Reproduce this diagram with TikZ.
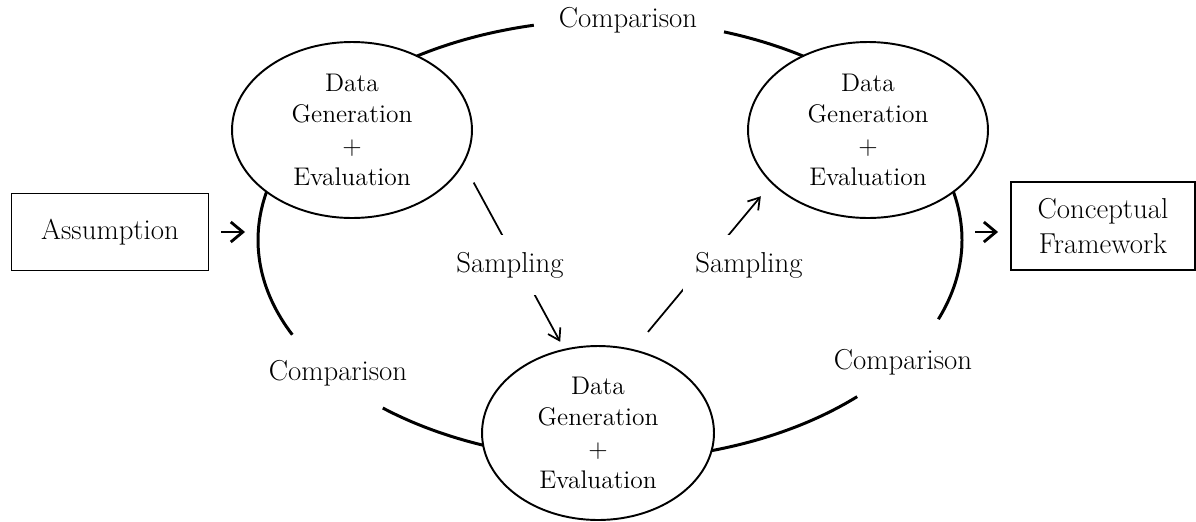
\documentclass[tikz,border=0pt]{standalone}
\usetikzlibrary{shapes.geometric,arrows.meta}
\newcommand{\labsize}{\fontsize{16.4}{20}\selectfont}
\newcommand{\dgsize}{\fontsize{14.5}{17.9}\selectfont}
\begin{document}
\begin{tikzpicture}[x=0.02cm,y=-0.02cm,
  ring/.style={line width=1.7pt},
  dgen/.style={ellipse,draw,line width=1.1pt,fill=white,align=center,inner sep=0pt,
    minimum width=4.8cm,minimum height=3.52cm,font=\dgsize},
  endbox/.style={draw,line width=1.1pt,align=center,font=\labsize},
  lab/.style={font=\labsize,inner sep=0pt},
  samplab/.style={font=\labsize,fill=white,inner xsep=0.24cm,inner ysep=0.34cm},
  samp/.style={line width=1pt,-{Straight Barb[length=0.22cm,width=0.28cm]}},
  mainarrow/.style={line width=1.6pt,-{Straight Barb[length=0.24cm,width=0.4cm]}}]
\useasboundingbox (0,0) rectangle (1196,521);
% the comparison ring
\foreach \a/\b in {102.5/140, 40/71.1, 160/205.5, 229.8/260, 280/314.6, 338.9/380}
  \draw[ring] plot[domain=\a:\b,samples=40] ({610+352*cos(\x)},{240-220*sin(\x)});
\node[dgen] (dgA) at (352,130) {Data\\Generation\\+\\Evaluation};
\node[dgen] (dgC) at (868,130) {Data\\Generation\\+\\Evaluation};
\node[dgen,minimum width=4.64cm,minimum height=3.48cm] (dgB) at (598,433) {Data\\Generation\\+\\Evaluation};
\node[endbox,minimum width=3.94cm,minimum height=1.54cm] (assume) at (110,232) {Assumption};
\node[endbox,minimum width=3.68cm,minimum height=1.76cm] (concept) at (1103,226) {Conceptual\\Framework};
\coordinate (ringW) at (258,232);
\coordinate (ringE) at (963,232);
\draw[mainarrow,shorten <=0.24cm,shorten >=0.26cm] (assume) -- (ringW);
\draw[mainarrow,shorten <=0.24cm,shorten >=0.24cm] (ringE) -- (ringE -| concept.west);
\draw[samp,shorten <=0.42cm,shorten >=0.16cm] (dgA.-17) -- (dgB.112);
\draw[samp,shorten <=0.45cm,shorten >=0.33cm] (dgB.67) -- (dgC.209);
\node[samplab] (sampL) at (510,265) {Sampling};
\node[samplab] (sampR) at (749,265) {Sampling};
\node[lab] (cmpT) at (628,20) {Comparison};
\node[lab] (cmpL) at (338,373) {Comparison};
\node[lab] (cmpR) at (903,362) {Comparison};
\end{tikzpicture}
\end{document}
